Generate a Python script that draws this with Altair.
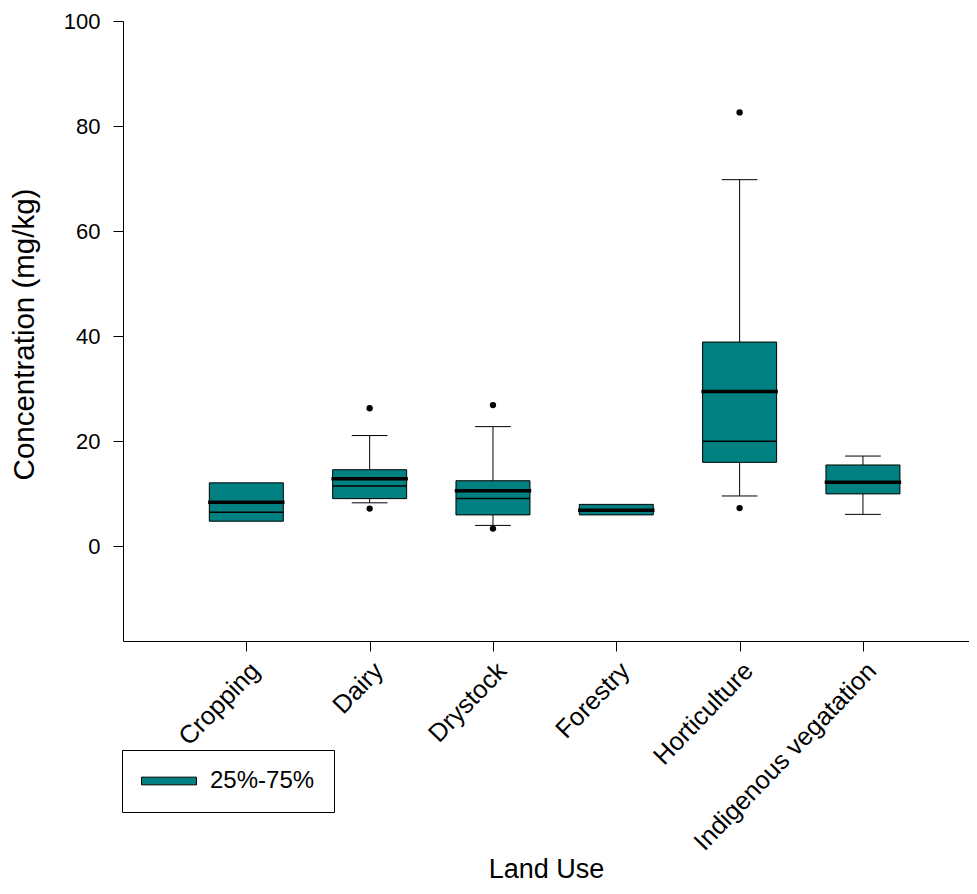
import json
import altair as alt
import pandas as pd

categories = ["Cropping", "Dairy", "Drystock", "Forestry", "Horticulture", "Indigenous vegatation"]
positions = [1, 2, 3, 4, 5, 6]
q1 = [4.8, 9.1, 6.0, 6.0, 16.0, 10.0]
q3 = [12.1, 14.6, 12.5, 8.0, 38.9, 15.5]
median = [6.5, 11.5, 9.1, 6.8, 20.0, 12.2]
mean = [8.4, 12.9, 10.6, 6.9, 29.5, 12.2]
whisker_low = [None, 8.3, 4.0, None, 9.6, 6.1]
whisker_high = [None, 21.1, 22.8, None, 69.8, 17.2]
outlier_cat = ["Dairy", "Dairy", "Drystock", "Drystock", "Horticulture", "Horticulture"]
outlier_val = [26.3, 7.2, 26.9, 3.4, 82.6, 7.3]
y_ticks = [0, 20, 40, 60, 80, 100]
legend_label = "25%-75%"

TEAL = "#008080"
FONT = "Liberation Sans"

boxes = pd.DataFrame({
    "cat": categories, "pos": positions, "q1": q1, "q3": q3,
    "median": median, "mean": mean, "key": [legend_label] * len(categories),
})
whisk = pd.DataFrame({"cat": categories, "pos": positions,
                      "lo": whisker_low, "hi": whisker_high}).dropna()
caps = pd.concat([
    whisk[["pos", "lo"]].rename(columns={"lo": "v"}),
    whisk[["pos", "hi"]].rename(columns={"hi": "v"}),
])
pos_of = dict(zip(categories, positions))
outl = pd.DataFrame({"pos": [pos_of[c] for c in outlier_cat], "v": outlier_val})

label_expr = json.dumps(categories) + "[datum.value - 1]"

xscale = alt.Scale(domain=[0, 6.86], nice=False, zero=False)
yscale = alt.Scale(domain=[-18, 100], nice=False, zero=False)

x_axis = alt.Axis(
    values=positions, labelExpr=label_expr, labelAngle=-46, grid=False,
    labelOverlap=False, labelAlign="right", labelBaseline="top", labelLimit=0,
    title="Land Use", titleFontSize=27, titleFontWeight="normal",
    titleBaseline="alphabetic", titleY=236, titleX=423,
    labelFontSize=25.5, labelPadding=7, tickSize=10, domainColor="black",
    tickColor="black", labelColor="black", titleColor="black",
)
y_axis = alt.Axis(
    values=y_ticks, grid=False, title="Concentration (mg/kg)", titleFontSize=29.5,
    titleFontWeight="normal", titleBaseline="alphabetic", titleAngle=270,
    titleAlign="center", titleX=-90, titleY=313,
    labelFontSize=22, labelPadding=13,
    tickSize=10, domainColor="black", tickColor="black", labelColor="black",
    titleColor="black",
)

base = alt.Chart(boxes)

whisker_rule = alt.Chart(whisk).mark_rule(color="black", strokeWidth=1).encode(
    x=alt.X("pos:Q", scale=xscale, axis=x_axis),
    y=alt.Y("lo:Q", scale=yscale, axis=y_axis),
    y2="hi:Q",
)

cap_rule = alt.Chart(caps).transform_calculate(
    xl="datum.pos - 0.145", xr="datum.pos + 0.145"
).mark_rule(color="black", strokeWidth=1).encode(
    x=alt.X("xl:Q", scale=xscale), x2="xr:Q", y=alt.Y("v:Q", scale=yscale),
)

path = "M-1,-0.14L1,-0.14L1,0.14L-1,0.14Z"
box = base.transform_calculate(
    xl="datum.pos - 0.3", xr="datum.pos + 0.3"
).mark_rect(stroke="black", strokeWidth=1).encode(
    x=alt.X("xl:Q", scale=xscale), x2="xr:Q",
    y=alt.Y("q1:Q", scale=yscale), y2="q3:Q",
    fill=alt.Fill("key:N", scale=alt.Scale(domain=[legend_label], range=[TEAL]),
                  legend=alt.Legend(
                      title=None, orient="none", legendX=-1, legendY=729,
                      symbolType=path, symbolSize=3025, symbolStrokeColor="black",
                      symbolStrokeWidth=1, symbolFillColor=TEAL,
                      labelFontSize=24, labelOffset=13, labelColor="black",
                      padding=19, strokeColor="black", fillColor="white",
                      labelFont=FONT, clipHeight=24,
                  )),
)

median_rule = base.transform_calculate(
    xl="datum.pos - 0.3", xr="datum.pos + 0.3"
).mark_rule(color="black", strokeWidth=1.5).encode(
    x=alt.X("xl:Q", scale=xscale), x2="xr:Q", y=alt.Y("median:Q", scale=yscale),
)

mean_rule = base.transform_calculate(
    xl="datum.pos - 0.31", xr="datum.pos + 0.31"
).mark_rule(color="black", strokeWidth=3.5).encode(
    x=alt.X("xl:Q", scale=xscale), x2="xr:Q", y=alt.Y("mean:Q", scale=yscale),
)

outlier_pts = alt.Chart(outl).mark_circle(color="black", size=40, opacity=1).encode(
    x=alt.X("pos:Q", scale=xscale), y=alt.Y("v:Q", scale=yscale),
)

chart = alt.layer(
    whisker_rule, cap_rule, box, median_rule, mean_rule, outlier_pts
).properties(
    width=846, height=620,
    autosize=alt.AutoSizeParams(type="none"),
    padding={"left": 115, "top": 13, "right": 0, "bottom": 243},
).configure(font=FONT).configure_view(strokeWidth=0, stroke="transparent")

chart.save("out.html", embed_options={"renderer": "svg", "actions": False})
